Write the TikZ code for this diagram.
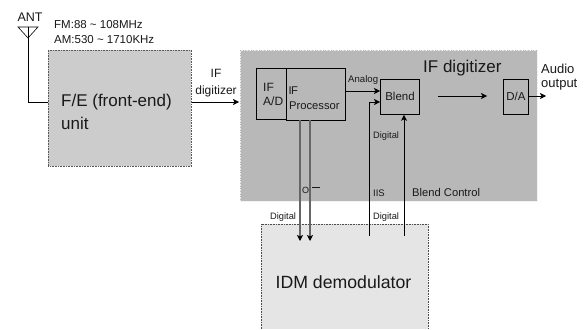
\documentclass[tikz,border=0pt]{standalone}
\usepackage{fontspec}
\setmainfont{Liberation Sans}
\usetikzlibrary{arrows.meta}
\definecolor{txt}{gray}{0.1}
\tikzset{
 x=1pt,y=-1pt,
 lab/.style={inner sep=0pt,text=txt,align=left,font=\fontsize{#1}{#1}\selectfont},
 lab/.default=8,
 panel/.style={draw=black!65,densely dotted,line width=0.6pt,inner sep=0pt},
 lightpanel/.style={draw=black!8,densely dotted,line width=0.6pt,inner sep=0pt},
 block/.style={draw=black,line width=0.8pt,inner sep=0pt},
 conn/.style={line width=0.7pt,-{Stealth[length=6pt,width=6pt,inset=1.5pt]}},
 plainconn/.style={line width=0.7pt},
 darkconn/.style={line width=1.2pt,draw=black!60,-{Stealth[length=6pt,width=6pt,inset=1.5pt,color=black]}},
}
\newcommand{\boxat}[7][block]{\node[#1,fill=#7,minimum width=#5pt-#3pt,minimum height=#6pt-#4pt,anchor=north west] (#2) at (#3,#4) {};}
\begin{document}
\begin{tikzpicture}
\useasboundingbox (0,0) rectangle (585,329);
\fill[white] (0,0) rectangle (585,329);
% panels
\boxat[panel]{fe}{48}{50}{191}{166}{black!20}
\boxat[lightpanel]{ifd}{240}{50}{537}{201}{black!28}
\path[fill=black!10,draw=black!70,densely dotted,line width=0.6pt] (261,329) -- (261,224) -- (428,224) -- (428,329);
\coordinate (idmtl) at (261,224);
% blocks
\boxat{ad}{256}{68}{286}{119}{black!28}
\boxat{proc}{286}{68}{345}{120}{black!28}
\boxat{blend}{380}{79}{419}{114}{black!28}
\boxat{da}{503}{79}{528}{114}{black!28}
% antenna
\coordinate (anttip) at (28,38);
\draw[line width=0.6pt] (18,27) -- (38,27) -- (anttip) -- cycle;
\coordinate (anttop) at (28,27);
\coordinate (antbend) at (28,102);
\draw[plainconn] (anttop) -- (antbend) -- (fe.west |- antbend);
% connectors
\coordinate (feout) at (fe.east |- antbend);
\coordinate (feend) at (239,102);
\draw[conn] (feout) -- (feend);
\coordinate (procA) at (proc.east |- 0,91);
\coordinate (blA) at (blend.west |- 0,91);
\draw[conn] (procA) -- (blA);
\coordinate (iisb) at (369,236);
\coordinate (iist) at (369,102);
\coordinate (blB) at (blend.west |- 0,102);
\draw[conn] (iisb) -- (iist) -- (blB);
\coordinate (ctlb) at (404,236);
\coordinate (ctlt) at (blend.south -| ctlb);
\draw[conn] (ctlb) -- (ctlt);
\coordinate (ls) at (438,96);
\coordinate (le) at (487,96);
\draw[conn] (ls) -- (le);
\coordinate (daout) at (da.east |- 0,96);
\coordinate (dae) at (546,96);
\draw[conn] (daout) -- (dae);
\coordinate (p1) at (300,120);
\coordinate (p2) at (310,120);
\coordinate (q1) at (300,241);
\coordinate (q2) at (310,241);
\draw[darkconn] (p1) -- (q1);
\draw[darkconn] (p2) -- (q2);
% text
\node[lab=12.5,anchor=base] (tant) at (30,22) {ANT};
\node[lab=11.5,anchor=base west] (tfm) at (54,29) {FM:88 \textasciitilde{} 108MHz};
\node[lab=11.5,anchor=base west] (tam) at (54,44) {AM:530 \textasciitilde{} 1710KHz};
\node[lab=17,anchor=base west] (tfe) at (61,106) {F/E (front-end)};
\node[lab=17,anchor=base west] (tun) at (61,129) {unit};
\node[lab=12,anchor=base] (tif) at (216,77) {IF};
\node[lab=12,anchor=base] (tdg) at (216,94) {digitizer};
\node[lab=12,anchor=base west] (tad1) at (263,91) {IF};
\node[lab=12,anchor=base west] (tad2) at (263,105) {A/D};
\node[lab=11.2,anchor=base west] (tp1) at (288.5,94) {I\kern-0.6ptF};
\node[lab=11.2,anchor=base west] (tp2) at (289,109) {Processor};
\node[lab=9.6,anchor=base west] (tan) at (348,82) {Analog};
\node[lab=11.5,anchor=base] (tbl) at (400,100) {Blend};
\node[lab=9.3,anchor=base west] (tdi1) at (373,138) {Digital};
\node[lab=9.5,anchor=base west] (tiis) at (373,196) {IIS};
\node[lab=11.2,anchor=base west] (tbc) at (412,196) {Blend Control};
\node[lab=17,anchor=base west] (tifd) at (423,72) {IF digitizer};
\node[lab=11.5,anchor=base] (tda) at (516,100) {D/A};
\node[lab=13,anchor=base west] (tao) at (541,73) {Audio};
\node[lab=13,anchor=base west] (tao2) at (541,87) {output};
\node[lab=9.3,anchor=base west] (tdi2) at (270,219) {Digital};
\node[lab=9.3,anchor=base west] (tdi3) at (373,219) {Digital};
\node[lab=17.7,anchor=base] (tidm) at (343.5,288) {IDM demodulator};
\node[lab=9,anchor=base west] (tq) at (302,193) {O};
\node[lab=8,anchor=base west] (tbar) at (312,188) {\rule[0pt]{8pt}{0.7pt}};
\end{tikzpicture}
\end{document}
